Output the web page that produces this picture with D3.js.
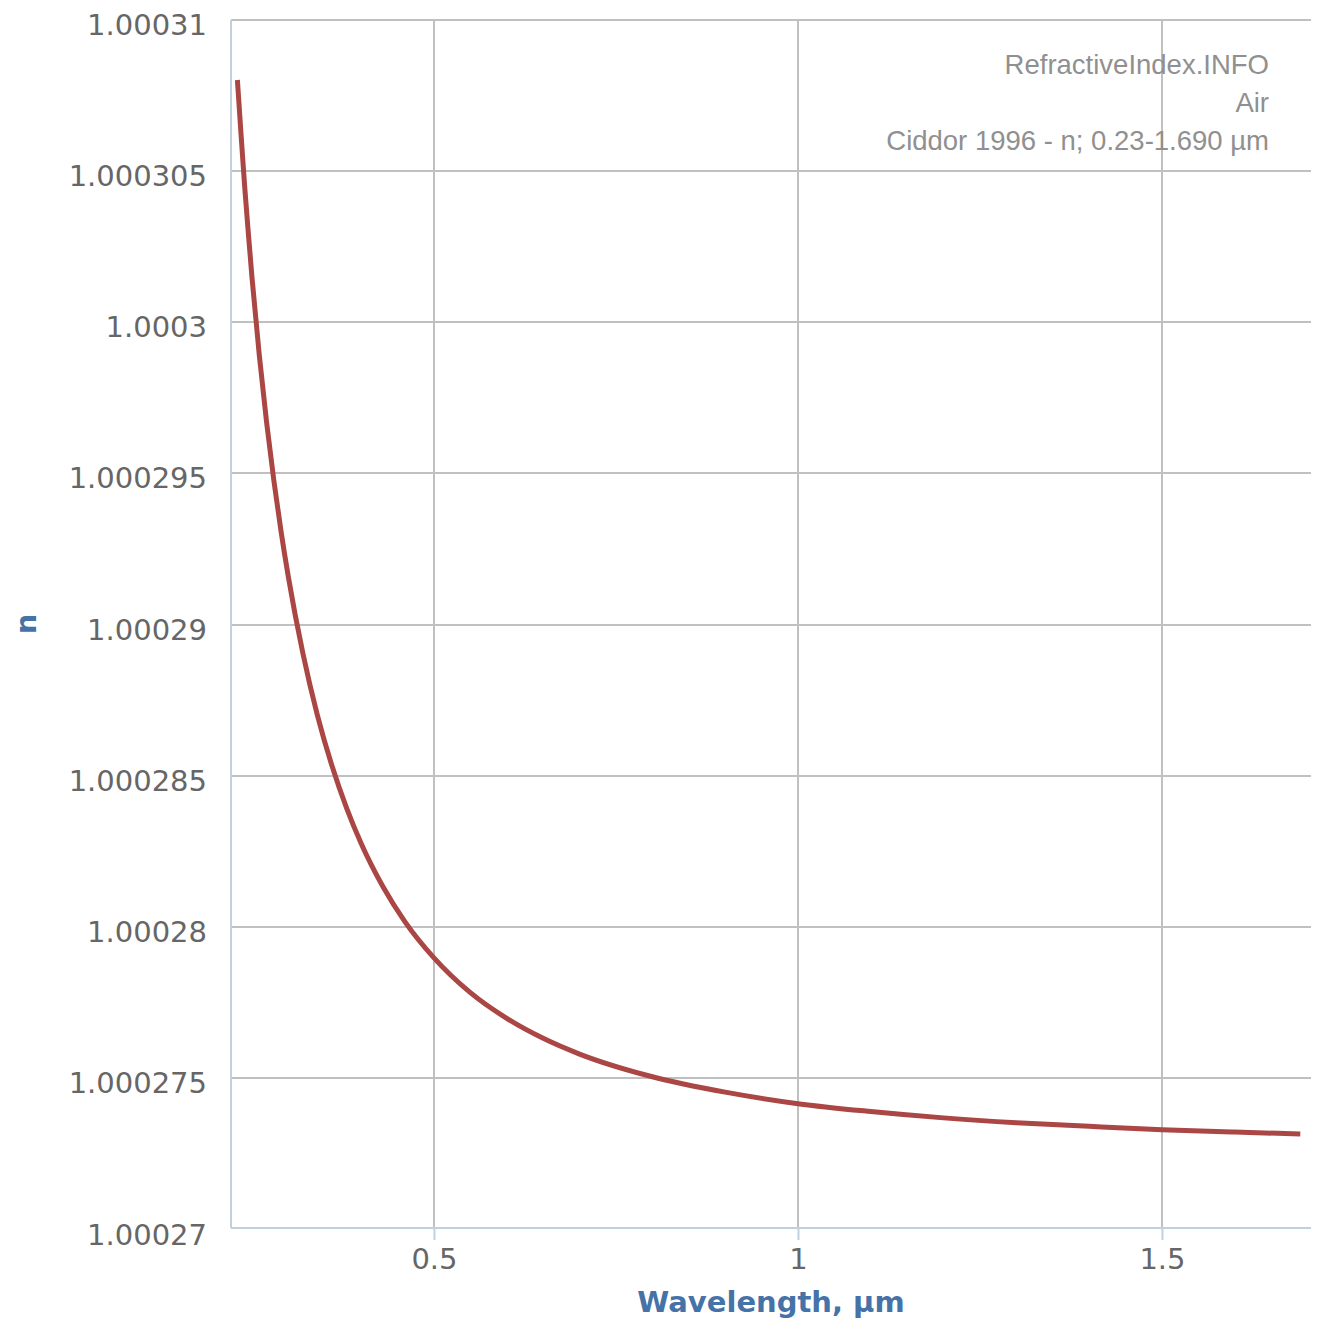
<!DOCTYPE html>
<html>
<head>
<meta charset="utf-8">
<script src="https://cdn.jsdelivr.net/npm/d3@7"></script>
<style>
  html, body { margin: 0; padding: 0; background: #fff; }
  svg { display: block; }
</style>
</head>
<body>
<svg id="chart" width="1319" height="1321"></svg>
<script>
// ---- data ----
const wavelengths = [0.23, 0.235, 0.24, 0.245, 0.25, 0.26, 0.27, 0.28, 0.29, 0.30, 0.32, 0.34, 0.36, 0.38, 0.40, 0.43, 0.46, 0.50, 0.55, 0.60, 0.65, 0.70, 0.80, 0.90, 1.0, 1.1, 1.2, 1.3, 1.4, 1.5, 1.6, 1.69];
const nValues = [1.00030800, 1.00030620, 1.00030447, 1.00030294, 1.00030148, 1.00029892, 1.00029670, 1.00029477, 1.00029307, 1.00029157, 1.00028904, 1.00028699, 1.00028532, 1.00028393, 1.00028276, 1.00028133, 1.00028018, 1.00027898, 1.00027783, 1.00027698, 1.00027632, 1.00027580, 1.00027505, 1.00027454, 1.00027416, 1.00027390, 1.00027369, 1.00027353, 1.00027341, 1.00027330, 1.00027322, 1.00027316];
const xTicks = [0.5, 1, 1.5];
const xTickLabels = ["0.5", "1", "1.5"];
const yTicks = [1.00027, 1.000275, 1.00028, 1.000285, 1.00029, 1.000295, 1.0003, 1.000305, 1.00031];
const yTickLabels = ["1.00027", "1.000275", "1.00028", "1.000285", "1.00029", "1.000295", "1.0003", "1.000305", "1.00031"];
const creditLines = ["RefractiveIndex.INFO", "Air", "Ciddor 1996 - n; 0.23-1.690 µm"];
const xTitle = "Wavelength, µm";
const yTitle = "n";

// ---- layout ----
const svg = d3.select("#chart");
const plot = { left: 231, top: 20, right: 1311, bottom: 1228 };

const x = d3.scaleLinear().domain([0.2212, 1.7047]).range([plot.left, plot.right]);
const y = d3.scaleLinear().domain([1.00027, 1.00031]).range([1229.5, 19.5]);

const tickFont = "'DejaVu Sans', sans-serif";

// horizontal grid
svg.append("g").selectAll("line").data(yTicks.filter(d => d !== 1.00027)).join("line")
  .attr("x1", plot.left).attr("x2", plot.right)
  .attr("y1", d => Math.round(y(d))).attr("y2", d => Math.round(y(d)))
  .attr("stroke", "#c0c0c0").attr("stroke-width", 2);

// vertical grid
svg.append("g").selectAll("line").data(xTicks).join("line")
  .attr("x1", d => Math.round(x(d))).attr("x2", d => Math.round(x(d)))
  .attr("y1", plot.top).attr("y2", plot.bottom)
  .attr("stroke", "#c0c0c0").attr("stroke-width", 2);

// x axis
const xAxis = d3.axisBottom(x).tickValues(xTicks)
  .tickFormat((d, i) => xTickLabels[i]).tickSize(12).tickPadding(8);
const gx = svg.append("g").attr("transform", `translate(0,${plot.bottom})`).call(xAxis);
gx.select(".domain").attr("stroke", "#c0d0e0").attr("stroke-width", 2)
  .attr("d", `M${plot.left},0H${plot.right}`);
gx.selectAll(".tick line").attr("stroke", "#c0d0e0").attr("stroke-width", 2);
gx.selectAll(".tick text").attr("fill", "#666").attr("font-family", tickFont)
  .attr("font-size", 29);

// y axis
const yAxis = d3.axisLeft(y).tickValues(yTicks)
  .tickFormat((d, i) => yTickLabels[i]).tickSize(0).tickPadding(24);
const gy = svg.append("g").attr("transform", `translate(${plot.left},0)`).call(yAxis);
gy.select(".domain").attr("stroke", "#c0d0e0").attr("stroke-width", 2)
  .attr("d", `M0,${plot.top}V${plot.bottom}`);
gy.selectAll(".tick text").attr("fill", "#666").attr("font-family", tickFont)
  .attr("font-size", 29).attr("dy", "0.5em");

// line
const line = d3.line()
  .x((d, i) => x(wavelengths[i]))
  .y(d => y(d))
  .curve(d3.curveMonotoneX);
svg.append("path").datum(nValues)
  .attr("d", line)
  .attr("fill", "none")
  .attr("stroke", "#aa4643")
  .attr("stroke-width", 5)
  .attr("stroke-linejoin", "round");

// credits
svg.append("g").selectAll("text").data(creditLines).join("text")
  .attr("x", 1269).attr("y", (d, i) => 74 + i * 38)
  .attr("text-anchor", "end")
  .attr("font-family", "'Liberation Sans', Arial, sans-serif")
  .attr("font-size", 27.5)
  .attr("fill", "#909090")
  .text(d => d);

// axis titles
svg.append("text")
  .attr("x", (plot.left + plot.right) / 2).attr("y", 1312)
  .attr("text-anchor", "middle")
  .attr("font-family", tickFont).attr("font-weight", "bold")
  .attr("font-size", 29).attr("fill", "#4572a7")
  .text(xTitle);

svg.append("text")
  .attr("transform", `translate(36,${(plot.top + plot.bottom) / 2}) rotate(-90)`)
  .attr("text-anchor", "middle")
  .attr("font-family", tickFont).attr("font-weight", "bold")
  .attr("font-size", 29).attr("fill", "#4572a7")
  .text(yTitle);
</script>
</body>
</html>
